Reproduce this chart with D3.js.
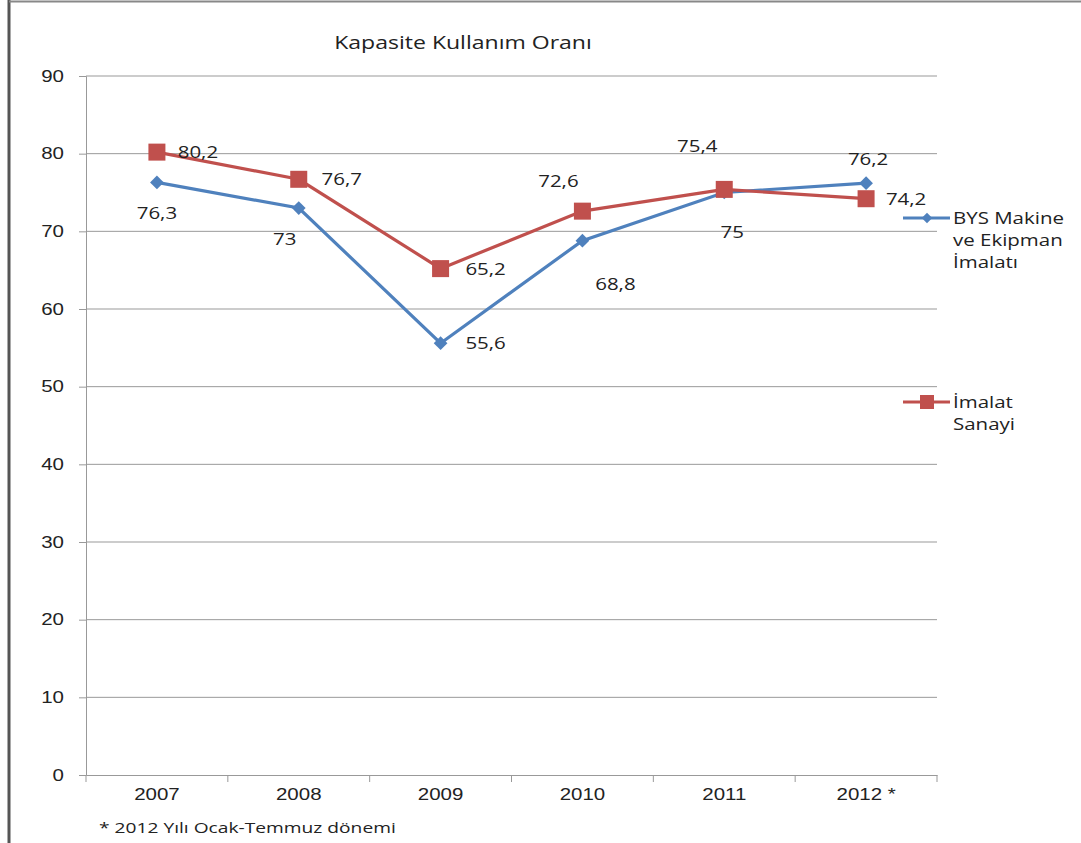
<!DOCTYPE html>
<html>
<head>
<meta charset="utf-8">
<script src="https://cdn.jsdelivr.net/npm/d3@7"></script>
<style>
  body { margin: 0; background: #fff; }
  svg { display: block; font-family: "Open Sans", "Noto Sans", sans-serif; }
  .tick text { fill: #222; font-size: 16px; }
</style>
</head>
<body>
<svg id="chart"></svg>
<script>
const years = ["2007", "2008", "2009", "2010", "2011", "2012 *"];
const bysValues = [76.3, 73, 55.6, 68.8, 75, 76.2];
const imalatValues = [80.2, 76.7, 65.2, 72.6, 75.4, 74.2];
const yTicks = [0, 10, 20, 30, 40, 50, 60, 70, 80, 90];

const width = 1081, height = 843;
const margin = { top: 76, right: 144, bottom: 68, left: 86 };
const blue = "#4F81BD", red = "#C0504D";
const stretch = 1.28; // the original text looks horizontally widened

const svg = d3.select("#chart")
  .attr("width", width)
  .attr("height", height);

// frame edges seen on the page scan
svg.append("line").attr("x1", 9).attr("x2", 9).attr("y1", 0).attr("y2", height)
  .attr("stroke", "#555").attr("stroke-width", 3);
svg.append("line").attr("x1", 9).attr("x2", width).attr("y1", 1.5).attr("y2", 1.5)
  .attr("stroke", "#888").attr("stroke-width", 2);

const xScale = d3.scaleBand()
  .domain(years)
  .range([margin.left, width - margin.right]);
const yScale = d3.scaleLinear()
  .domain([0, 90])
  .range([height - margin.bottom, margin.top]);

// gridlines
svg.append("g")
  .selectAll("line")
  .data(yTicks.filter(d => d > 0))
  .join("line")
    .attr("x1", margin.left).attr("x2", width - margin.right)
    .attr("y1", d => yScale(d)).attr("y2", d => yScale(d))
    .attr("stroke", "#999").attr("stroke-width", 1);

const yAxis = d3.axisLeft(yScale).tickValues(yTicks).tickSize(7).tickPadding(15);
const gy = svg.append("g")
  .attr("transform", `translate(${margin.left},0)`)
  .call(yAxis);
gy.selectAll("line, path").attr("stroke", "#999");

const xAxis = d3.axisBottom(xScale).tickSize(0).tickPadding(14);
const gx = svg.append("g")
  .attr("transform", `translate(0,${height - margin.bottom})`)
  .call(xAxis);
gx.select("path").attr("stroke", "#999");
// ticks at category boundaries
gx.selectAll(".edge")
  .data(years.concat(["end"]))
  .join("line")
    .attr("x1", (d, i) => margin.left + i * xScale.step())
    .attr("x2", (d, i) => margin.left + i * xScale.step())
    .attr("y1", 0).attr("y2", 7)
    .attr("stroke", "#999");

const cx = d => xScale(d) + xScale.bandwidth() / 2;
const line = d3.line().x((d, i) => cx(years[i])).y(d => yScale(d));

svg.append("path").datum(bysValues)
  .attr("d", line).attr("fill", "none")
  .attr("stroke", blue).attr("stroke-width", 3.2);
svg.append("path").datum(imalatValues)
  .attr("d", line).attr("fill", "none")
  .attr("stroke", red).attr("stroke-width", 3.2);

const diamond = d3.symbol().type(d3.symbolDiamond2).size(120);
svg.append("g").selectAll("path")
  .data(bysValues)
  .join("path")
    .attr("d", diamond)
    .attr("transform", (d, i) => `translate(${cx(years[i])},${yScale(d)})`)
    .attr("fill", blue);

svg.append("g").selectAll("rect")
  .data(imalatValues)
  .join("rect")
    .attr("x", (d, i) => cx(years[i]) - 8.5)
    .attr("y", d => yScale(d) - 8.5)
    .attr("width", 17).attr("height", 17)
    .attr("fill", red);

// data labels (offsets mimic original placement)
const bysOffsets = [[0, 37], [-14, 37], [45, 6], [33, 49], [8, 45], [2, -18]];
const imalatOffsets = [[41, 6], [43, 6], [45, 6], [-24, -24], [-27, -37], [40, 6]];
const fmt = v => String(v).replace(".", ",");

svg.append("g").selectAll("text")
  .data(bysValues)
  .join("text")
    .attr("x", (d, i) => cx(years[i]) + bysOffsets[i][0])
    .attr("y", (d, i) => yScale(d) + bysOffsets[i][1])
    .attr("text-anchor", "middle")
    .attr("font-size", 16).attr("fill", "#222")
    .text(fmt);

svg.append("g").selectAll("text")
  .data(imalatValues)
  .join("text")
    .attr("x", (d, i) => cx(years[i]) + imalatOffsets[i][0])
    .attr("y", (d, i) => yScale(d) + imalatOffsets[i][1])
    .attr("text-anchor", "middle")
    .attr("font-size", 16).attr("fill", "#222")
    .text(fmt);

// title
svg.append("text")
  .attr("x", 463).attr("y", 49)
  .attr("text-anchor", "middle")
  .attr("font-size", 18).attr("fill", "#222")
  .text("Kapasite Kullanım Oranı");

// legend
const legend = [
  { name: ["BYS Makine", "ve Ekipman", "İmalatı"], color: blue, shape: "diamond", y: 218 },
  { name: ["İmalat", "Sanayi"], color: red, shape: "square", y: 402 }
];
legend.forEach(l => {
  const g = svg.append("g");
  g.append("line").attr("x1", 903).attr("x2", 950).attr("y1", l.y).attr("y2", l.y)
    .attr("stroke", l.color).attr("stroke-width", 3);
  if (l.shape === "diamond") {
    g.append("path").attr("d", d3.symbol().type(d3.symbolDiamond2).size(70))
      .attr("transform", `translate(927,${l.y})`).attr("fill", l.color);
  } else {
    g.append("rect").attr("x", 920).attr("y", l.y - 7).attr("width", 14).attr("height", 14)
      .attr("fill", l.color);
  }
  g.selectAll("text").data(l.name).join("text")
    .attr("x", 953).attr("y", (d, i) => l.y + 6 + i * 22)
    .attr("font-size", 16).attr("fill", "#222")
    .text(d => d);
});

// footnote
svg.append("text")
  .attr("x", 99).attr("y", 833)
  .attr("font-size", 15).attr("fill", "#222")
  .text("* 2012 Yılı Ocak-Temmuz dönemi");

// widen every text horizontally around its anchor point
svg.selectAll("text").each(function() {
  const t = d3.select(this);
  const x = +t.attr("x") || 0, y = +t.attr("y") || 0;
  t.attr("x", 0).attr("y", 0)
    .attr("transform", `translate(${x},${y}) scale(${stretch},1)`);
});
</script>
</body>
</html>
